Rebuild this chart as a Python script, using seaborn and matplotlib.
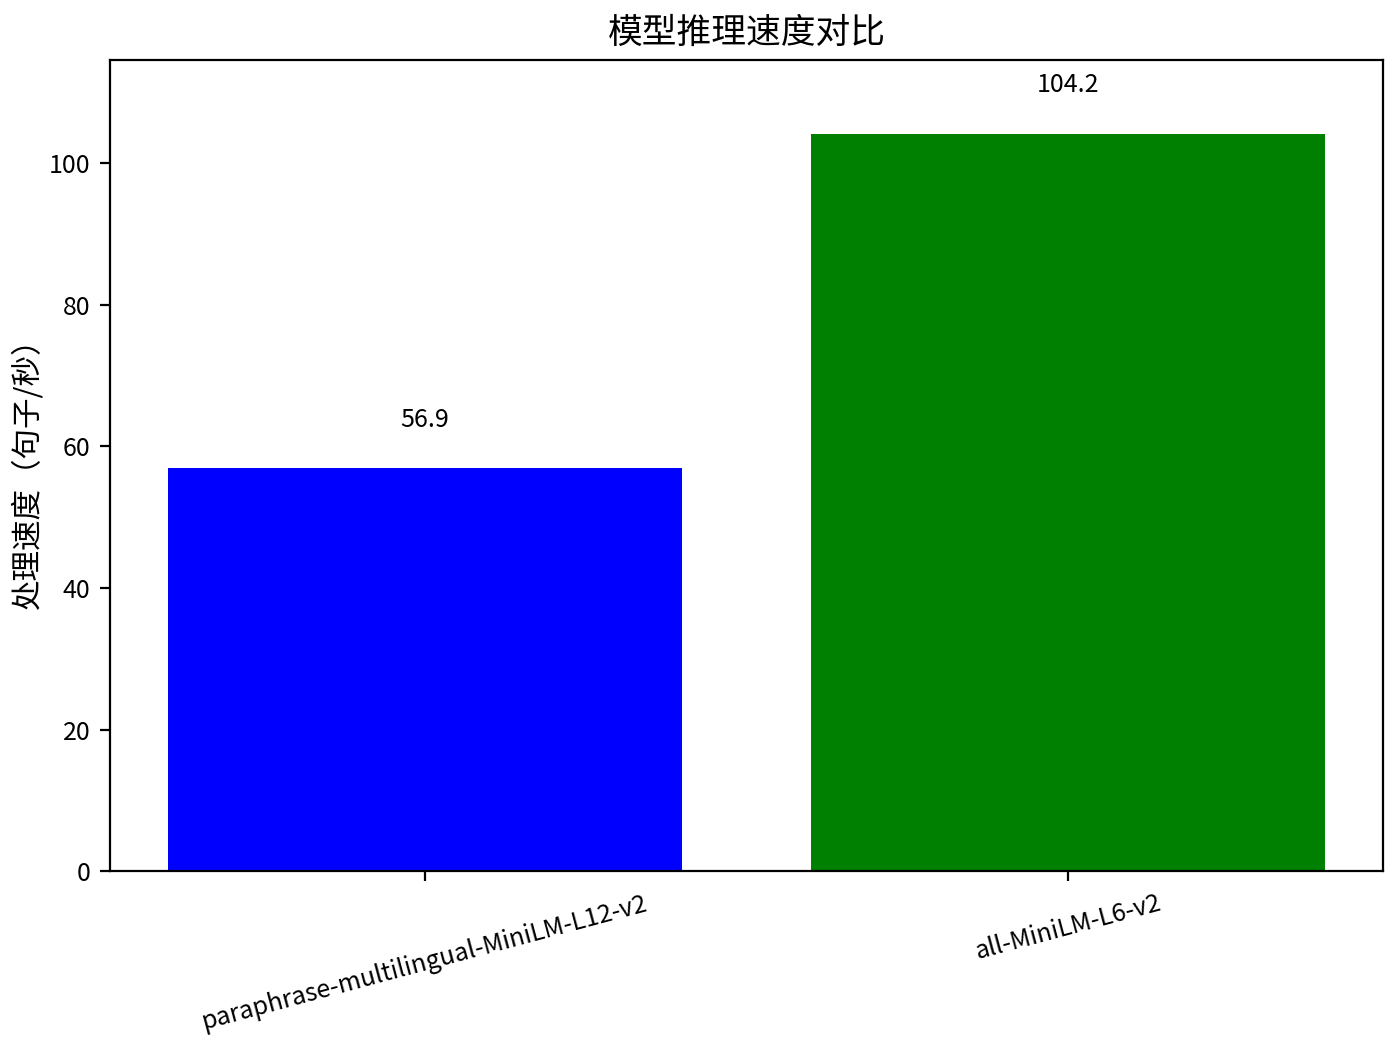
import pandas as pd
import seaborn as sns
import matplotlib.pyplot as plt

plt.rcParams['font.family'] = ['Noto Sans CJK SC', 'DejaVu Sans']
plt.rcParams['axes.unicode_minus'] = False

# data
models = ["paraphrase-multilingual-MiniLM-L12-v2", "all-MiniLM-L6-v2"]
speeds = [56.9, 104.2]
colors = ["blue", "green"]

df = pd.DataFrame({"model": models, "speed": speeds})

fig, ax = plt.subplots(figsize=(7, 5.22), dpi=200)
sns.barplot(data=df, x="model", y="speed", hue="model", palette=colors,
            saturation=1, width=0.8, legend=False, ax=ax)

# value labels above bars
for i, v in enumerate(speeds):
    ax.text(i, v + 5, f"{v:.1f}", ha="center", va="bottom", fontsize=9)

ax.set_title("模型推理速度对比", fontsize=12.5)
ax.set_xlabel("")
ax.set_ylabel("处理速度（句子/秒）", fontsize=11, labelpad=2)
ax.set_ylim(0, max(speeds) * 1.1)
ax.set_xlim(-0.49, 1.49)
plt.xticks(rotation=15, fontsize=9)
plt.yticks(fontsize=9)
plt.subplots_adjust(left=0.0786, right=0.988, top=0.9425, bottom=0.1657)
plt.savefig("out.png", dpi=200)
